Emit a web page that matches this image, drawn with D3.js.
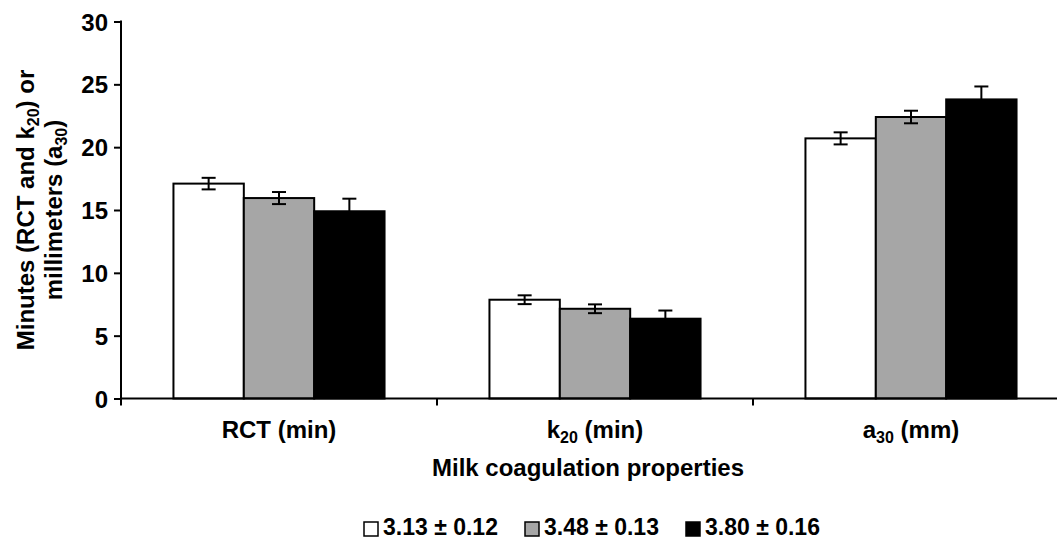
<!DOCTYPE html>
<html>
<head>
<meta charset="utf-8">
<script src="https://cdn.jsdelivr.net/npm/d3@7"></script>
<style>
  html, body { margin: 0; padding: 0; background: #fff; }
  svg { display: block; }
  text { font-family: "Liberation Sans", Arial, sans-serif; font-weight: bold; fill: #000; }
</style>
</head>
<body>
<svg id="chart" width="1057" height="540"></svg>
<script>
// ---- data ----
const categories = ["RCT", "k20", "a30"];
const categoryLabels = [
  [{t: "RCT (min)"}],
  [{t: "k"}, {t: "20", sub: true}, {t: " (min)"}],
  [{t: "a"}, {t: "30", sub: true}, {t: " (mm)"}]
];
const seriesNames = ["3.13 ± 0.12", "3.48 ± 0.13", "3.80 ± 0.16"];
const seriesFills = ["#ffffff", "#a6a6a6", "#000000"];
const valuesLow  = [17.1, 7.86, 20.7];   // 3.13 ± 0.12
const valuesMid  = [15.95, 7.14, 22.4];  // 3.48 ± 0.13
const valuesHigh = [14.9, 6.35, 23.8];   // 3.80 ± 0.16
const errLow  = [0.46, 0.35, 0.48];
const errMid  = [0.48, 0.35, 0.5];
const errHigh = [1.0, 0.65, 1.03];
const yTicks = [0, 5, 10, 15, 20, 25, 30];
const xTitle = "Milk coagulation properties";

const seriesValues = [valuesLow, valuesMid, valuesHigh];
const seriesErrors = [errLow, errMid, errHigh];

// ---- layout ----
const svg = d3.select("#chart");
const x0 = 121, x1 = 1069, yBottom = 398.5, yTop = 21.5;

const x = d3.scaleBand().domain(categories).range([x0, x1])
  .paddingInner(0.332).paddingOuter(0.166);
const xs = d3.scaleBand().domain(d3.range(seriesNames.length)).range([0, x.bandwidth()]);
const y = d3.scaleLinear().domain([0, 30]).range([yBottom, yTop]);

const rows = [];
categories.forEach((c, ci) => {
  seriesValues.forEach((vals, si) => {
    rows.push({c, ci, si, v: vals[ci], e: seriesErrors[si][ci]});
  });
});

// bars
svg.append("g").selectAll("rect").data(rows).join("rect")
  .attr("x", d => x(d.c) + xs(d.si))
  .attr("width", xs.bandwidth())
  .attr("y", d => y(d.v))
  .attr("height", d => y(0) - y(d.v))
  .attr("fill", d => seriesFills[d.si])
  .attr("stroke", "#000")
  .attr("stroke-width", 2);

// error bars
const eg = svg.append("g").attr("stroke", "#000").attr("stroke-width", 2);
rows.forEach(d => {
  const cx = x(d.c) + xs(d.si) + xs.bandwidth() / 2;
  const capW = 7;
  eg.append("line").attr("x1", cx).attr("x2", cx).attr("y1", y(d.v + d.e)).attr("y2", y(d.v - d.e));
  eg.append("line").attr("x1", cx - capW).attr("x2", cx + capW).attr("y1", y(d.v + d.e)).attr("y2", y(d.v + d.e));
  eg.append("line").attr("x1", cx - capW).attr("x2", cx + capW).attr("y1", y(d.v - d.e)).attr("y2", y(d.v - d.e));
});

// y axis
const yAxis = svg.append("g").attr("transform", `translate(${x0},0)`)
  .call(d3.axisLeft(y).tickValues(yTicks).tickSize(7).tickPadding(6).tickFormat(d3.format("d")));
yAxis.select(".domain").remove();
yAxis.selectAll(".tick line").attr("stroke", "#000").attr("stroke-width", 2);
yAxis.selectAll(".tick text").style("font-size", "24px").style("font-family", "'Liberation Sans', Arial, sans-serif").style("font-weight", "bold").attr("dy", "0.36em");
yAxis.append("line").attr("x1", 0).attr("x2", 0).attr("y1", yTop - 1).attr("y2", yBottom + 7)
  .attr("stroke", "#000").attr("stroke-width", 2);

// x axis
const xAxisG = svg.append("g");
xAxisG.append("line").attr("x1", x0).attr("x2", x1).attr("y1", yBottom).attr("y2", yBottom)
  .attr("stroke", "#000").attr("stroke-width", 2);
const boundaries = categories.slice(1).map(c => x(c) - x.step() * x.paddingInner() / 2);
xAxisG.selectAll("line.sep").data(boundaries).join("line").attr("class", "sep")
  .attr("x1", d => d).attr("x2", d => d).attr("y1", yBottom).attr("y2", yBottom + 7)
  .attr("stroke", "#000").attr("stroke-width", 2);

// category labels
categories.forEach((c, ci) => {
  const t = svg.append("text")
    .attr("x", x(c) + x.bandwidth() / 2)
    .attr("y", 438)
    .attr("text-anchor", "middle")
    .style("font-size", "24px");
  categoryLabels[ci].forEach(p => {
    const s = t.append("tspan").text(p.t);
    if (p.sub) s.style("font-size", "16px").attr("dy", "5");
    else if (p.t.startsWith(" ") && ci > 0) s.attr("dy", "-5");
  });
});

// x title
svg.append("text").attr("x", 588).attr("y", 476).attr("text-anchor", "middle")
  .style("font-size", "24px").text(xTitle);

// y title
const yMid = (yTop + yBottom) / 2;
const yt1 = svg.append("text").attr("transform", `translate(34,${yMid}) rotate(-90)`)
  .attr("text-anchor", "middle").style("font-size", "24px");
yt1.append("tspan").text("Minutes (RCT and k");
yt1.append("tspan").text("20").style("font-size", "16px").attr("dy", "5");
yt1.append("tspan").text(") or").attr("dy", "-5");
const yt2 = svg.append("text").attr("transform", `translate(62,${yMid}) rotate(-90)`)
  .attr("text-anchor", "middle").style("font-size", "24px");
yt2.append("tspan").text("millimeters (a");
yt2.append("tspan").text("30").style("font-size", "16px").attr("dy", "5");
yt2.append("tspan").text(")").attr("dy", "-5");

// legend
const legendX = [363, 524, 685];
const lg = svg.append("g");
seriesNames.forEach((n, i) => {
  lg.append("rect").attr("x", legendX[i] + 1).attr("y", 522).attr("width", 14).attr("height", 14)
    .attr("fill", seriesFills[i]).attr("stroke", "#000").attr("stroke-width", 1.5);
  lg.append("text").attr("x", legendX[i] + 20).attr("y", 535).style("font-size", "23px").text(n);
});
</script>
</body>
</html>
